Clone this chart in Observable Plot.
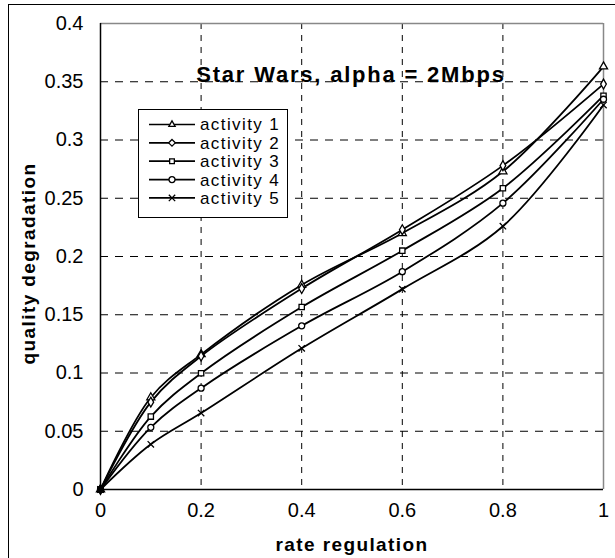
<!DOCTYPE html>
<html>
<head>
<meta charset="utf-8">
<script src="https://cdn.jsdelivr.net/npm/d3@7"></script>
<script src="https://cdn.jsdelivr.net/npm/@observablehq/plot@0.6"></script>
<style>
  body { margin: 0; background: #fff; }
  #wrap { position: relative; width: 615px; height: 558px; overflow: hidden; background: #fff;
          font-family: "Liberation Sans", Arial, sans-serif; }
  #wrap > svg { position: absolute; left: 0; top: 0; }
  #frame { position: absolute; left: 8px; top: 4px; right: -5px; bottom: -5px;
           border-left: 1px solid #000; border-top: 1px solid #000; pointer-events: none; }
</style>
</head>
<body>
<div id="wrap"></div>
<script>
// ---- data ----
const xValues = [0, 0.1, 0.2, 0.4, 0.6, 0.8, 1];
const seriesNames = ["activity 1", "activity 2", "activity 3", "activity 4", "activity 5"];
const activity1 = [0, 0.079, 0.116, 0.1756, 0.220, 0.273, 0.363];
const activity2 = [0, 0.075, 0.1145, 0.1725, 0.223, 0.278, 0.348];
const activity3 = [0, 0.0626, 0.0998, 0.1566, 0.205, 0.2586, 0.338];
const activity4 = [0, 0.0534, 0.087, 0.1405, 0.187, 0.2458, 0.335];
const activity5 = [0, 0.0388, 0.0656, 0.1212, 0.172, 0.226, 0.330];
const seriesSymbols = ["triangle", "diamond", "square", "circle", "times"];
const xTicks = [0, 0.2, 0.4, 0.6, 0.8, 1];
const yTicks = [0, 0.05, 0.1, 0.15, 0.2, 0.25, 0.3, 0.35, 0.4];
const xGrid = [0.2, 0.4, 0.6, 0.8];
const yGrid = [0.05, 0.1, 0.15, 0.2, 0.25, 0.3, 0.35];
const titleText = "Star Wars, alpha = 2Mbps";
const xLabel = "rate regulation";
const yLabel = "quality degradation";

const allSeries = [activity1, activity2, activity3, activity4, activity5];
const data = allSeries.flatMap((vals, i) =>
  vals.map((v, j) => ({ series: seriesNames[i], x: xValues[j], y: v })));

const font = '"Liberation Sans", Arial, sans-serif';

const chart = Plot.plot({
  width: 615,
  height: 558,
  marginLeft: 100,
  marginRight: 12,
  marginTop: 23,
  marginBottom: 69,
  style: { fontFamily: font, fontSize: "20px", color: "#000", background: "transparent", overflow: "visible" },
  x: { domain: [0, 1], ticks: xTicks, tickSize: 0, tickPadding: 13, tickFormat: d => String(d), label: null },
  y: { domain: [0, 0.4], ticks: yTicks, tickSize: 0, tickPadding: 17, tickFormat: d => String(d), label: null },
  symbol: { domain: seriesNames, range: seriesSymbols },
  marks: [
    Plot.ruleY(yGrid, { stroke: "#000", strokeDasharray: "8,7", strokeWidth: 1 }),
    Plot.ruleX(xGrid, { stroke: "#000", strokeDasharray: "6,6", strokeWidth: 1 }),
    Plot.ruleY([0.4], { stroke: "#888", strokeWidth: 1.5 }),
    Plot.ruleX([1], { stroke: "#888", strokeWidth: 1.5 }),
    Plot.ruleX([0], { stroke: "#000", strokeWidth: 1.5 }),
    Plot.ruleY([0], { stroke: "#000", strokeWidth: 1.5 }),
    Plot.line(data, { x: "x", y: "y", z: "series", curve: "catmull-rom", stroke: "#000", strokeWidth: 1.8 }),
    Plot.dot(data, { x: "x", y: "y", symbol: "series", r: 3, stroke: "#000", strokeWidth: 1.3,
                     fill: d => d.x === 0 ? "#000" : "#fff" }),
    Plot.text([titleText], { text: d => d, frameAnchor: "top", textAnchor: "middle", lineAnchor: "middle",
                             dx: -1, dy: 51, fontSize: 22, fontWeight: "bold", fill: "#000" }),
    Plot.text([xLabel], { text: d => d, frameAnchor: "bottom", textAnchor: "middle", lineAnchor: "middle",
                          dx: 0, dy: 55, fontSize: 19, fontWeight: "bold", fill: "#000" }),
    Plot.text([yLabel], { text: d => d, frameAnchor: "left", textAnchor: "middle", lineAnchor: "middle",
                          dx: -72, dy: 7, rotate: -90, fontSize: 19, fontWeight: "bold", fill: "#000" })
  ]
});

const wrap = document.getElementById("wrap");
wrap.appendChild(chart);

// letter spacing for the bold labels (the original text is slightly wide)
d3.select(chart).selectAll("g[font-weight=bold] text").each(function() {
  const t = d3.select(this);
  t.attr("letter-spacing", t.text() === titleText ? "1.8px" : "1.4px");
});

// frame lines of the outer picture
const frame = document.createElement("div");
frame.id = "frame";
wrap.appendChild(frame);

// ---- legend (inside the plot area, upper left) ----
const legend = d3.select(wrap).append("svg")
  .attr("width", 152).attr("height", 112)
  .style("position", "absolute").style("left", "137px").style("top", "108px")
  .style("overflow", "visible");
legend.append("rect").attr("x", 1.5).attr("y", 1.5).attr("width", 149).attr("height", 108)
  .attr("fill", "#fff").attr("stroke", "#000").attr("stroke-width", 1);
const symbolTypes = {
  triangle: d3.symbolTriangle2, diamond: d3.symbolDiamond2, square: d3.symbolSquare2,
  circle: d3.symbolCircle, times: d3.symbolTimes
};
seriesNames.forEach((name, i) => {
  const cy = 16.5 + i * 18.35;
  const g = legend.append("g").attr("transform", `translate(0,${cy})`);
  g.append("line").attr("x1", 12).attr("x2", 58).attr("y1", 0).attr("y2", 0)
    .attr("stroke", "#000").attr("stroke-width", 1.7);
  g.append("path").attr("transform", "translate(35,0)")
    .attr("d", d3.symbol(symbolTypes[seriesSymbols[i]], Math.PI * 9)())
    .attr("fill", "#fff").attr("stroke", "#000").attr("stroke-width", 1.3);
  g.append("text").attr("x", 63).attr("y", 0).attr("dy", "0.35em")
    .attr("font-family", font).attr("font-size", 17).attr("letter-spacing", "1.4px")
    .attr("fill", "#000").text(name);
});
</script>
</body>
</html>
